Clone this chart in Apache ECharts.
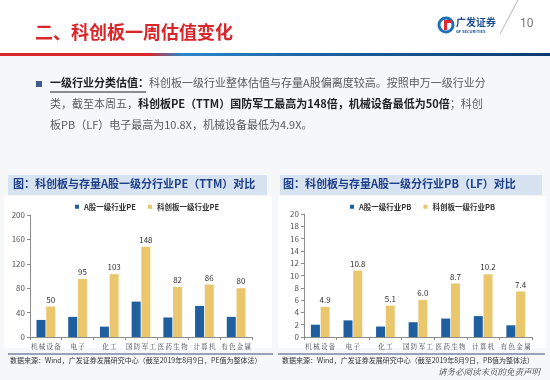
<!DOCTYPE html>
<html><head><meta charset="utf-8">
<script src="https://cdn.jsdelivr.net/npm/echarts@6/dist/echarts.min.js"></script>
<style>html,body{margin:0;padding:0;background:#fff}#c{width:550px;height:380px}</style>
</head><body><div id="c"></div>
<script>
const categories = ['机械设备','电子','化工','国防军工','医药生物','计算机','有色金属'];
const peAShare = [28, 33, 17, 58, 32, 51, 33];
const peStar = [50, 95, 103, 148, 82, 86, 80];
const pbAShare = [2.0, 2.7, 1.7, 2.4, 3.0, 3.4, 1.9];
const pbStar = [4.9, 10.8, 5.1, 6.0, 8.7, 10.2, 7.4];
const peAxis = {min: 0, max: 200, interval: 40};
const pbAxis = {min: 0, max: 20, interval: 2};
const seriesNames = ['A股一级行业PE', '科创板一级行业PE', 'A股一级行业PB', '科创板一级行业PB'];

const FONT = '"Noto Sans CJK SC", "Noto Sans", sans-serif';
const BLUE = '#1f5e9f', YELLOW = '#eac66c';
const chart = echarts.init(document.getElementById('c'), null, {renderer: 'canvas'});

function yAxisDef(idx, ax) {
  return {
    gridIndex: idx, type: 'value', min: ax.min, max: ax.max, interval: ax.interval,
    axisLine: {show: true, lineStyle: {color: '#8c8c8c', width: 1}},
    axisTick: {show: true, length: 3, lineStyle: {color: '#8c8c8c'}},
    splitLine: {show: false},
    axisLabel: {fontSize: 8, color: '#555', margin: 5, fontFamily: FONT}
  };
}
function xAxisDef(idx) {
  return {
    gridIndex: idx, type: 'category', data: categories,
    axisLine: {lineStyle: {color: '#8c8c8c'}},
    axisTick: {show: true, length: 3, lineStyle: {color: '#8c8c8c'}},
    axisLabel: {interval: 0, fontSize: 6.5, color: '#444', margin: 6,
      fontFamily: '"Noto Serif CJK SC", "Noto Sans CJK SC", serif',
      formatter: s => s.split('').join('\u2009')}
  };
}
function barSeries(name, data, xi, color, labels, dec) {
  return {
    name, type: 'bar', xAxisIndex: xi, yAxisIndex: xi, data,
    barWidth: 9, barGap: '8%', itemStyle: {color},
    label: labels ? {show: true, position: 'top', distance: 3, fontSize: 8, color: '#333', fontFamily: FONT,
      formatter: p => dec ? p.value.toFixed(1) : String(p.value)} : {show: false}
  };
}

const option = {
  animation: false,
  backgroundColor: '#ffffff',
  textStyle: {fontFamily: FONT},
  legend: [
    {data: [seriesNames[0], seriesNames[1]], left: 70, top: 198, itemWidth: 4, itemHeight: 4, itemGap: 12,
      icon: 'rect', textStyle: {fontSize: 7.5, color: '#333', fontWeight: 'bold', fontFamily: FONT}},
    {data: [seriesNames[2], seriesNames[3]], left: 345, top: 198, itemWidth: 4, itemHeight: 4, itemGap: 12,
      icon: 'rect', textStyle: {fontSize: 7.5, color: '#333', fontWeight: 'bold', fontFamily: FONT}}
  ],
  grid: [
    {left: 30, top: 215, width: 222, height: 122},
    {left: 304, top: 214, width: 228, height: 123}
  ],
  xAxis: [xAxisDef(0), xAxisDef(1)],
  yAxis: [yAxisDef(0, peAxis), yAxisDef(1, pbAxis)],
  series: [
    barSeries(seriesNames[0], peAShare, 0, BLUE, false, false),
    barSeries(seriesNames[1], peStar, 0, YELLOW, true, false),
    barSeries(seriesNames[2], pbAShare, 1, BLUE, false, true),
    barSeries(seriesNames[3], pbStar, 1, YELLOW, true, true)
  ],
  graphic: [
    {type: 'rect', z: -10, shape: {x: 0, y: 56, width: 550, height: 324}, style: {fill: '#f6f7f9'}},
    {type: 'rect', z: -9, shape: {x: 4, y: 196, width: 268, height: 152}, style: {fill: '#ffffff'}},
    {type: 'rect', z: -9, shape: {x: 278, y: 196, width: 268, height: 152}, style: {fill: '#ffffff'}},
    {type: 'rect', z: -5, shape: {x: 0, y: 53, width: 550, height: 3},
      style: {fill: new echarts.graphic.LinearGradient(0, 0, 1, 0, [
        {offset: 0, color: '#d9262b'}, {offset: 0.27, color: '#d9262b'},
        {offset: 0.33, color: '#2a86c8'}, {offset: 0.6, color: '#1a5fa0'}, {offset: 1, color: '#0b3a70'}])}},
    {type: 'text', left: 35, top: 23, style: {text: '二、科创板一周估值变化', fill: '#d9262b',
      font: 'bold 18px ' + FONT}},
    {type: 'circle', shape: {cx: 446, cy: 25, r: 7}, style: {fill: 'none', stroke: '#1d6fb8', lineWidth: 3}},
    {type: 'rect', shape: {x: 444, y: 20, width: 7, height: 3}, style: {fill: '#e12a2f'}},
    {type: 'rect', shape: {x: 444, y: 20, width: 3, height: 10}, style: {fill: '#e12a2f'}},
    {type: 'text', left: 456, top: 17, style: {text: '广发证券', fill: '#1b4f92', font: 'bold 10px ' + FONT}},
    {type: 'text', left: 456, top: 29, style: {text: 'GF SECURITIES', fill: '#1b4f92', font: 'bold 4px ' + FONT}},
    {type: 'line', shape: {x1: 518, y1: 0, x2: 500, y2: 34}, style: {stroke: '#b8b8b8', lineWidth: 1}},
    {type: 'text', left: 520, top: 18, style: {text: '10', fill: '#7a7a7a', font: '12px Roboto, ' + FONT}},
    {type: 'rect', shape: {x: 36, y: 81, width: 6, height: 6}, style: {fill: '#3d5d8e'}},
    {type: 'text', left: 50, top: 77, style: {
      text: '{b|一级行业分类估值：}{n|科创板一级行业整体估值与存量A股偏离度较高。按照申万一级行业分}',
      rich: {b: {font: 'bold 11px ' + FONT, fill: '#222'}, n: {font: '11px ' + FONT, fill: '#5a5a5a'}}}},
    {type: 'line', shape: {x1: 50, y1: 92, x2: 146, y2: 92}, style: {stroke: '#222', lineWidth: 1}},
    {type: 'text', left: 50, top: 98, style: {
      text: '{n|类，截至本周五，}{b|科创板PE（TTM）国防军工最高为148倍，机械设备最低为50倍}{n|；科创}',
      rich: {b: {font: 'bold 11px ' + FONT, fill: '#222'}, n: {font: '11px ' + FONT, fill: '#5a5a5a'}}}},
    {type: 'text', left: 50, top: 119, style: {
      text: '板PB（LF）电子最高为10.8X，机械设备最低为4.9X。', fill: '#5a5a5a', font: '11px ' + FONT}},
    {type: 'rect', z: -5, shape: {x: 8, y: 175, width: 259, height: 20}, style: {fill: '#d8e3f1'}},
    {type: 'rect', z: -5, shape: {x: 280, y: 175, width: 262, height: 20}, style: {fill: '#d8e3f1'}},
    {type: 'text', left: 13, top: 178, style: {text: '图：科创板与存量A股一级分行业PE（TTM）对比',
      fill: '#1d3f8a', font: 'bold 11px ' + FONT}},
    {type: 'text', left: 283, top: 178, style: {text: '图：科创板与存量A股一级分行业PB（LF）对比',
      fill: '#1d3f8a', font: 'bold 11px ' + FONT}},
    {type: 'line', shape: {x1: 8, y1: 354, x2: 273, y2: 354}, style: {stroke: '#3a4f74', lineWidth: 1}},
    {type: 'line', shape: {x1: 278, y1: 354, x2: 545, y2: 354}, style: {stroke: '#3a4f74', lineWidth: 1}},
    {type: 'text', left: 10, top: 357, style: {text: '数据来源：Wind，广发证券发展研究中心（截至2019年8月9日，PE值为整体法）',
      fill: '#333', font: '7px ' + FONT}},
    {type: 'text', left: 282, top: 357, style: {text: '数据来源：Wind，广发证券发展研究中心（截至2019年8月9日，PB值为整体法）',
      fill: '#333', font: '7px ' + FONT}},
    {type: 'text', left: 438, top: 368, style: {text: '请务必阅读末页的免责声明',
      fill: '#333', font: 'italic 8.5px "Noto Serif CJK SC", ' + FONT}}
  ]
};
chart.setOption(option);
</script></body></html>
